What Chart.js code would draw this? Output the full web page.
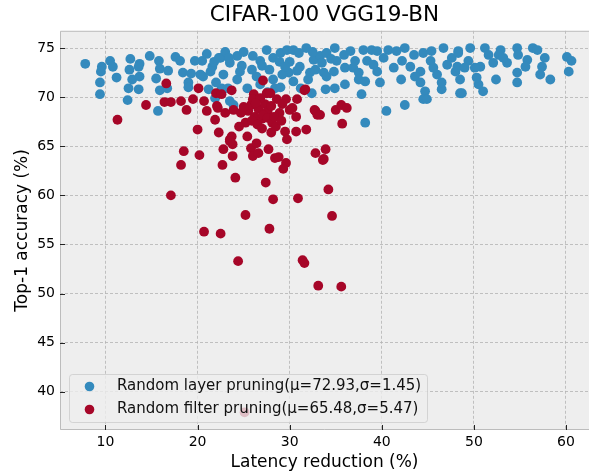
<!DOCTYPE html>
<html>
<head>
<meta charset="utf-8">
<script src="https://cdn.jsdelivr.net/npm/chart.js@4/dist/chart.umd.min.js"></script>
<style>
  html, body { margin: 0; padding: 0; background: #ffffff; overflow: hidden; }
  #wrap { width: 589px; height: 476px; }
</style>
</head>
<body>
<div id="wrap"><canvas id="scatterChart" width="589" height="476"></canvas></div>
<script>
// CIFAR-100 VGG19-BN: latency reduction vs top-1 accuracy

const chartTitle = 'CIFAR-100 VGG19-BN';
const xTitle = 'Latency reduction (%)';
const yTitle = 'Top-1 accuracy (%)';
const seriesNames = [
    'Random layer pruning(\u03bc=72.93,\u03c3=1.45)',
    'Random filter pruning(\u03bc=65.48,\u03c3=5.47)'
];
const xTicks = [10, 20, 30, 40, 50, 60];
const yTicks = [40, 45, 50, 55, 60, 65, 70, 75];

// Random layer pruning (blue)
const layerLatency = [
    7.8, 9.6, 9.5, 10.5, 10.8, 9.4, 9.4, 11.2, 12.7, 12.6, 13.7, 13.6, 12.9, 13.7, 12.5, 13.6, 12.4,
    14.8, 15.8, 15.9, 16.8, 15.5, 15.9, 15.7, 17.6, 18.1, 18.4, 19.0, 19.0, 19.3, 19.7, 16.7,
    20.5, 21.2, 22.5, 24.3, 23.5, 21.6, 20.6,
    26.8, 27.5, 28.2, 29.0, 29.7, 30.4, 31.8, 32.6, 33.3, 34.0,
    22.8, 24.3, 25.4, 26.4, 28.2, 28.4, 29.9, 30.4, 31.1, 32.0, 32.8, 33.7, 33.9, 23.5, 22.6, 21.9,
    21.0, 23.0, 25.0, 26.0, 27.0, 28.9, 30.0, 31.0, 32.5, 33.5, 34.5, 21.8, 24.8, 25.9, 27.8, 29.2,
    30.8, 32.2, 34.0, 22.0, 23.3, 24.6, 26.8, 27.6, 29.0, 31.2, 32.4, 23.9, 29.5, 20.3, 21.4, 22.3, 23.4,
    34.9, 35.9, 36.6, 37.1, 38.0, 38.9, 39.5, 40.7, 41.6, 42.5, 43.5, 44.5, 45.4, 46.7, 47.6, 48.3,
    34.8, 36.0, 36.9, 38.4, 39.1, 41.3, 42.2, 43.1, 44.2, 45.3, 46.0, 47.1, 48.0,
    35.1, 37.5, 39.5, 40.2, 43.6, 45.6,
    34.9, 36.0, 37.5, 38.2, 39.8, 42.1, 44.2, 44.7, 44.5, 44.9, 46.5, 46.5, 37.8, 40.5, 42.5, 38.2, 48.5,
    48.3, 49.6, 51.2, 52.9, 54.7, 56.4, 56.9, 49.4, 50.7, 52.1, 53.6, 54.8, 55.8, 57.7, 55.6, 57.4,
    60.1, 60.6, 60.3, 48.2, 48.5, 48.7, 50.5, 51.0, 52.4, 54.7, 54.7, 57.2, 58.3,
    52.7, 53.2, 51.6, 50.1, 49.0, 50.3
];
const layerAccuracy = [
    73.4, 73.1, 72.6, 73.7, 73.1, 71.5, 70.3, 72.0, 73.9, 72.8, 73.4, 73.1, 71.8, 72.1, 70.9, 70.8, 69.7,
    74.2, 73.7, 72.9, 72.7, 71.9, 70.7, 68.6, 74.1, 73.7, 72.5, 71.5, 71.0, 72.4, 73.7, 70.9,
    73.7, 70.8, 74.0, 74.2, 73.5, 73.1, 72.1,
    73.7, 74.8, 74.0, 74.5, 74.8, 74.8, 75.0, 73.8, 74.2, 74.5,
    72.3, 71.8, 70.9, 72.1, 71.8, 70.9, 72.5, 71.6, 73.1, 71.8, 72.8, 72.5, 70.8, 69.6, 70.9, 69.9,
    74.4, 74.6, 74.6, 74.2, 73.2, 73.6, 73.6, 74.5, 74.6, 73.5, 73.9, 73.6, 73.2, 72.8, 72.8, 72.3,
    72.7, 72.5, 72.1, 71.5, 70.9, 72.6, 71.3, 70.5, 71.0, 70.9, 70.4, 69.2, 73.1, 72.3, 72.6, 74.0, 74.0,
    75.0, 74.3, 74.7, 73.7, 74.8, 74.8, 74.7, 74.8, 74.7, 75.0, 74.3, 74.5, 74.7, 75.0, 74.0, 74.7,
    72.6, 73.0, 73.0, 73.7, 73.3, 73.0, 73.7, 73.1, 72.6, 73.7, 72.3, 73.3, 72.6,
    73.7, 72.5, 72.6, 74.0, 72.1, 73.0,
    70.9, 71.3, 71.8, 71.6, 71.5, 71.8, 71.5, 70.6, 69.8, 69.8, 70.8, 71.5, 70.3, 68.6, 69.2, 67.4, 70.4,
    74.5, 75.0, 75.0, 74.8, 75.0, 75.0, 74.8, 73.7, 73.1, 73.5, 73.5, 74.3, 73.8, 74.0, 73.1, 73.1,
    74.1, 73.7, 72.6, 73.1, 71.8, 70.4, 71.3, 70.6, 71.8, 72.5, 71.5, 72.3, 71.8,
    74.3, 74.0, 74.3, 73.0, 73.0, 72.0
];

// Random filter pruning (red)
const filterLatency = [
    11.3, 14.4, 16.6, 16.4, 17.1, 18.2, 18.8, 19.5, 20.7, 21.0, 20.1, 20.0, 18.5, 20.2, 18.2, 17.1, 20.7,
    22.0, 22.6, 23.7, 22.1, 23.0, 23.9, 22.2, 21.9, 22.3, 23.5, 23.7, 23.8, 22.8, 23.8, 22.7, 24.1,
    27.1, 26.1, 27.5, 27.9, 25.2, 25.5, 25.8, 26.2, 26.6, 27.0, 27.3, 26.0, 26.8, 27.6, 27.1, 25.9,
    26.5, 27.6, 28.1, 28.0, 28.6, 29.6, 28.9, 30.0, 30.3, 30.7, 30.8, 31.6, 31.7, 31.8, 32.7, 33.0,
    32.8, 29.5, 29.7, 25.8, 26.4, 26.0, 26.6, 27.7, 28.4, 28.8, 29.6, 29.3, 27.4, 28.2, 30.9, 32.8,
    33.7, 33.9, 34.2, 25.2, 27.8, 34.6, 22.5, 24.4, 31.4, 31.6, 33.1, 35.6, 23.5, 33.3, 35.0, 35.6,
    36.2, 35.7, 33.6, 25.1, 24.7, 25.0, 26.3, 28.0, 28.3, 29.2, 24.5, 25.4, 28.5, 29.1, 27.0, 30.7
];
const filterAccuracy = [
    67.7, 69.2, 71.4, 69.5, 69.5, 69.6, 68.7, 69.8, 69.6, 68.6, 70.9, 66.7, 64.5, 64.1, 63.1, 60.0, 56.3,
    70.4, 70.3, 70.7, 69.1, 68.4, 68.7, 68.9, 67.7, 66.4, 65.7, 66.0, 65.2, 64.7, 64.0, 63.1, 61.8,
    71.7, 70.3, 70.4, 70.4, 67.4, 68.6, 69.2, 68.0, 68.8, 67.8, 69.3, 69.8, 69.9, 68.6, 68.2, 67.6,
    67.2, 67.9, 67.4, 66.4, 69.8, 69.8, 68.4, 68.7, 68.9, 68.0, 69.8, 70.7, 70.8, 66.7, 68.7, 68.2,
    68.6, 66.5, 65.7, 64.8, 65.3, 64.0, 64.3, 64.7, 63.8, 63.9, 63.3, 62.7, 61.3, 59.6, 59.7, 64.3,
    63.7, 64.7, 60.6, 58.0, 56.6, 57.9, 56.1, 53.3, 53.4, 53.1, 50.8, 50.7, 65.5, 68.2, 68.7, 69.2,
    68.9, 67.3, 63.6, 37.9, 68.4, 69.0, 69.4, 69.1, 68.0, 69.3, 67.0, 66.0, 67.0, 67.6, 66.8, 66.5
];

const blue = '#348ABD';
const red = '#A60628';
const fontFamily = "'DejaVu Sans', sans-serif";

Chart.defaults.font.family = fontFamily;
Chart.defaults.color = '#000000';

function toPoints(xs, ys) {
    return xs.map((x, i) => ({ x: x, y: ys[i] }));
}

// Grey plot background, drawn under the grid
const plotBackground = {
    id: 'plotBackground',
    beforeDraw(chart) {
        const { ctx, chartArea: a } = chart;
        ctx.save();
        ctx.fillStyle = '#eeeeee';
        ctx.fillRect(a.left, a.top, a.right - a.left, a.bottom - a.top);
        ctx.restore();
    }
};

// Frame, inward tick marks and the legend box inside the plot
const plotFrame = {
    id: 'plotFrame',
    afterDraw(chart) {
        const { ctx, chartArea: a, scales } = chart;
        ctx.save();
        ctx.strokeStyle = '#bcbcbc';
        ctx.lineWidth = 1;
        ctx.beginPath();
        ctx.moveTo(a.right, a.top + 0.5);
        ctx.lineTo(a.left + 0.5, a.top + 0.5);
        ctx.lineTo(a.left + 0.5, a.bottom - 0.5);
        ctx.lineTo(a.right, a.bottom - 0.5);
        ctx.stroke();

        ctx.strokeStyle = '#222222';
        ctx.beginPath();
        scales.x.ticks.forEach(t => {
            const px = Math.round(scales.x.getPixelForValue(t.value)) + 0.5;
            ctx.moveTo(px, a.bottom);
            ctx.lineTo(px, a.bottom - 5);
        });
        scales.y.ticks.forEach(t => {
            const py = Math.round(scales.y.getPixelForValue(t.value)) + 0.5;
            ctx.moveTo(a.left, py);
            ctx.lineTo(a.left + 5, py);
        });
        ctx.stroke();

        // legend
        const bx = 69, by = 374, bw = 358, bh = 48;
        ctx.beginPath();
        ctx.roundRect(bx + 0.5, by + 0.5, bw, bh, 3);
        ctx.fillStyle = 'rgba(238,238,238,0.8)';
        ctx.fill();
        ctx.strokeStyle = 'rgba(204,204,204,0.8)';
        ctx.stroke();

        const colors = [blue, red];
        ctx.font = '15px ' + fontFamily;
        ctx.textBaseline = 'middle';
        seriesNames.forEach((name, i) => {
            const cy = by + 12.5 + i * 23;
            ctx.beginPath();
            ctx.arc(89.5, cy, 4.8, 0, Math.PI * 2);
            ctx.fillStyle = colors[i];
            ctx.fill();
            ctx.fillStyle = '#111111';
            ctx.fillText(name, 117, cy);
        });
        ctx.restore();
    }
};

const ctx = document.getElementById('scatterChart').getContext('2d');
const scatterChart = new Chart(ctx, {
    type: 'scatter',
    data: {
        datasets: [{
            label: seriesNames[0],
            data: toPoints(layerLatency, layerAccuracy),
            backgroundColor: blue,
            borderWidth: 0,
            pointRadius: 4.9,
            order: 2
        }, {
            label: seriesNames[1],
            data: toPoints(filterLatency, filterAccuracy),
            backgroundColor: red,
            borderWidth: 0,
            pointRadius: 4.9,
            order: 1
        }]
    },
    options: {
        responsive: false,
        animation: false,
        layout: { padding: 0, autoPadding: false },
        plugins: {
            legend: { display: false },
            tooltip: { enabled: false },
            title: {
                display: true,
                text: chartTitle,
                fullSize: false,
                color: '#000000',
                font: { size: 21.5, weight: 'normal' },
                padding: { top: 3, bottom: 2 }
            }
        },
        scales: {
            x: {
                type: 'linear',
                min: 5.06,
                max: 62.5,
                afterFit: scale => {
                    scale.height = 46;
                    scale.paddingLeft = 0;
                    scale.paddingRight = 0;
                },
                afterBuildTicks: scale => { scale.ticks = xTicks.map(v => ({ value: v })); },
                ticks: { padding: 4, color: '#000000', font: { size: 14 } },
                grid: { color: '#b2b2b2', lineWidth: 0.8, drawTicks: false },
                border: { display: false, dash: [3, 2] },
                title: {
                    display: true,
                    text: xTitle,
                    color: '#000000',
                    font: { size: 17 },
                    padding: { top: 0, bottom: 3 }
                }
            },
            y: {
                type: 'linear',
                min: 36.1,
                max: 76.76,
                afterFit: scale => {
                    scale.width = 60;
                    scale.paddingTop = 0;
                    scale.paddingBottom = 0;
                },
                afterBuildTicks: scale => { scale.ticks = yTicks.map(v => ({ value: v })); },
                ticks: { padding: 5, color: '#000000', font: { size: 14 } },
                grid: { color: '#b2b2b2', lineWidth: 0.8, drawTicks: false },
                border: { display: false, dash: [3, 2] },
                title: {
                    display: true,
                    text: yTitle,
                    color: '#000000',
                    font: { size: 17 },
                    padding: { top: 12, bottom: 0 }
                }
            }
        }
    },
    plugins: [plotBackground, plotFrame]
});
</script>
</body>
</html>
